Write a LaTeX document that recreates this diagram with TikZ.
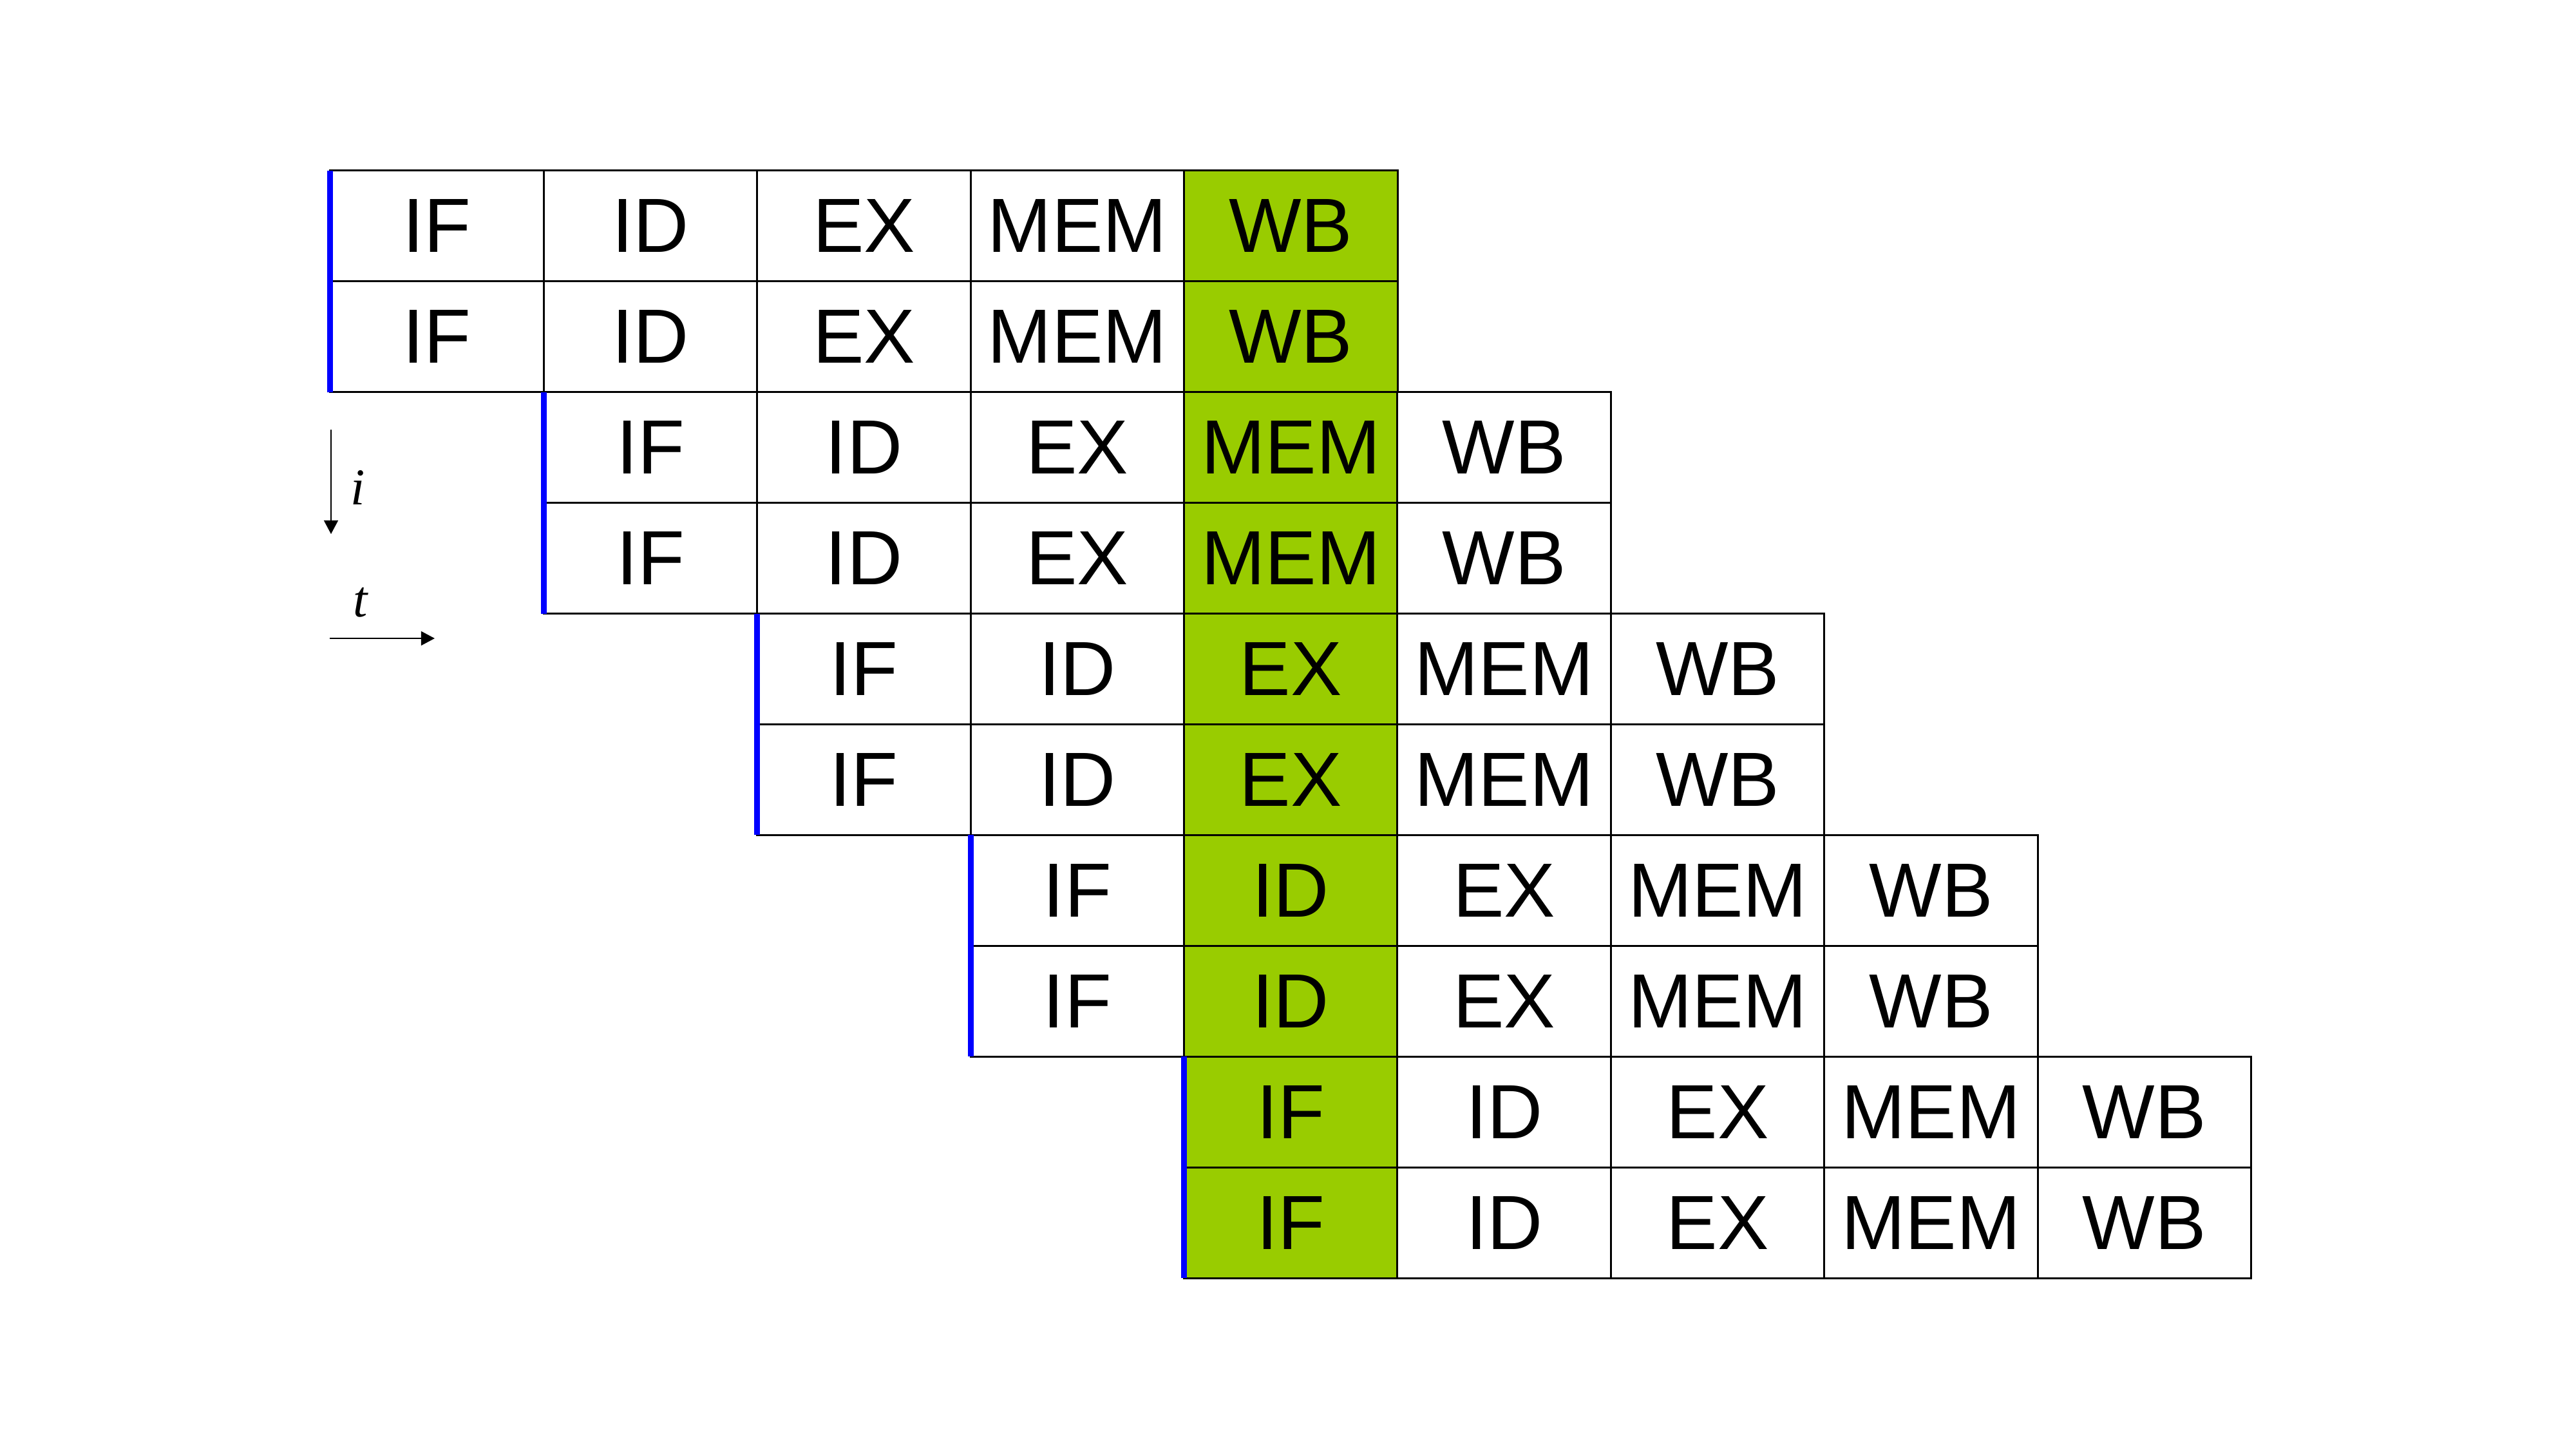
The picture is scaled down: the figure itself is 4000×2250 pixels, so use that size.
\documentclass[tikz,border=0pt]{standalone}
\usepackage{fontspec}
\setmainfont{Liberation Sans}
\newfontfamily\serifit{Liberation Serif}
\usetikzlibrary{arrows.meta}
\definecolor{stagegreen}{HTML}{99CC00}
\definecolor{fwdblue}{HTML}{0000FF}
\begin{document}
\begin{tikzpicture}[x=0.01cm,y=-0.01cm,
  cell/.style={draw=black,line width=0.85pt,minimum width=3.314cm,minimum height=1.719cm,
    inner sep=0pt,outer sep=0pt,font=\fontsize{33.9}{40}\selectfont,anchor=center},
  fwd/.style={draw=fwdblue,line width=0.09cm},
  axis/.style={line width=0.65pt,-{Triangle[length=6pt,width=6.2pt]}},
  axlabel/.style={font=\serifit\itshape\fontsize{22.8}{26}\selectfont,inner sep=0pt}]
\useasboundingbox (0,0) rectangle (4000,2250);
\foreach \r in {0,...,9} {
  \pgfmathtruncatemacro\k{int(\r/2)}
  \foreach \s [count=\n from 0] in {IF,ID,EX,MEM,WB} {
    \pgfmathtruncatemacro\c{\k+\n}
    \ifnum\c=4 \def\fc{stagegreen}\else\def\fc{white}\fi
    \node[cell,fill=\fc] (cell-\r-\c) at ({513+(\c+0.5)*331.4},{265+(\r+0.5)*171.9}) {\s};
  }
}
\foreach \k in {0,...,4} {
  \pgfmathtruncatemacro\ra{2*\k}
  \pgfmathtruncatemacro\rb{2*\k+1}
  \draw[fwd] (cell-\ra-\k.north west) -- (cell-\rb-\k.south west);
}
\coordinate (iS) at (514,667);
\coordinate (iE) at (514,829);
\draw[axis] (iS) -- (iE);
\node[axlabel] (ilab) at (556,757) {i};
\coordinate (tS) at (512,991);
\coordinate (tE) at (675,991);
\draw[axis] (tS) -- (tE);
\node[axlabel] (tlab) at (560,935) {t};
\end{tikzpicture}
\end{document}
